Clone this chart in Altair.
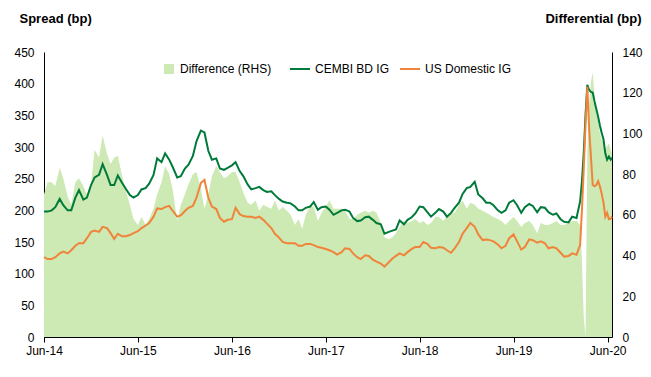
import altair as alt
import pandas as pd

# ---------------- data ----------------
# semi-monthly grid (1st and 15th) from Jun 2014 to mid-Feb 2020
SEMI_DATES = list(pd.date_range("2014-06-01", "2020-02-15", freq="SMS").strftime("%Y-%m-%d"))
# weekly dates through the Covid spike
COVID_DATES = ["2020-02-22", "2020-02-29", "2020-03-07", "2020-03-14", "2020-03-21",
               "2020-03-28", "2020-04-04", "2020-04-11", "2020-04-18", "2020-04-25",
               "2020-05-02", "2020-05-09", "2020-05-16", "2020-05-23", "2020-05-30",
               "2020-06-06", "2020-06-13", "2020-06-18"]

CEMBI_SEMI = [198, 198, 200, 205, 218, 208, 200, 200, 220, 232,
              217, 220, 240, 252, 256, 273, 256, 240, 240, 255,
              243, 234, 224, 220, 224, 233, 235, 242, 256, 282,
              276, 290, 280, 268, 252, 254, 266, 272, 286, 309,
              326, 323, 294, 280, 282, 266, 264, 267, 271, 276,
              262, 254, 241, 233, 235, 237, 232, 229, 230, 224,
              218, 214, 212, 211, 206, 200, 200, 204, 206, 213,
              201, 205, 206, 201, 193, 196, 200, 201, 198, 188,
              183, 184, 189, 190, 185, 180, 178, 163, 166, 168,
              170, 184, 178, 185, 189, 195, 206, 205, 197, 190,
              196, 202, 198, 190, 196, 204, 212, 226, 235, 237,
              245, 225, 219, 212, 212, 208, 200, 196, 200, 212,
              216, 208, 196, 205, 210, 207, 197, 205, 204, 197,
              193, 195, 186, 182, 181, 190, 188, 214]
CEMBI_COVID = [245, 290, 350, 398, 390, 387, 386, 372, 360, 348,
               334, 322, 312, 290, 280, 285, 280, 283]

US_SEMI = [126, 123, 123, 126, 132, 135, 132, 137, 144, 148,
           148, 156, 166, 168, 166, 174, 172, 164, 155, 163,
           159, 159, 161, 164, 167, 172, 176, 180, 190, 203,
           202, 205, 207, 199, 190, 192, 199, 204, 207, 220,
           243, 248, 220, 206, 202, 188, 182, 185, 186, 204,
           194, 191, 190, 190, 188, 190, 185, 179, 172, 163,
           157, 150, 148, 148, 148, 144, 144, 147, 147, 145,
           142, 141, 139, 137, 134, 130, 134, 140, 139, 132,
           126, 123, 129, 128, 122, 119, 116, 111, 118, 124,
           128, 132, 129, 134, 139, 142, 142, 150, 147, 141,
           140, 142, 141, 137, 133, 140, 150, 163, 172, 180,
           174, 162, 153, 154, 153, 151, 146, 140, 144, 156,
           162, 151, 138, 142, 154, 153, 149, 151, 148, 140,
           142, 140, 133, 127, 128, 132, 130, 145]
US_COVID = [200, 265, 335, 395, 330, 285, 240, 238, 240, 246,
            238, 226, 212, 190, 196, 186, 187, 190]

DIFF_SEMI = [70, 76, 76, 74, 83, 78, 69, 65, 76, 78,
             74, 70, 75, 92, 88, 99, 90, 85, 88, 89,
             79, 72, 65, 58, 55, 59, 55, 58, 63, 70,
             76, 84, 80, 72, 57, 65, 70, 75, 80, 81,
             73, 63, 70, 79, 84, 81, 78, 79, 81, 81,
             76, 71, 66, 65, 67, 62, 65, 64, 63, 67,
             62, 64, 62, 60, 55, 58, 53, 60, 64, 64,
             57, 61, 64, 67, 63, 63, 63, 62, 58, 58,
             60, 61, 62, 61, 62, 61, 56, 49, 48, 49,
             51, 54, 57, 56, 57, 58, 56, 57, 55, 56,
             59, 59, 57, 59, 61, 61, 65, 67, 63, 66,
             65, 63, 62, 61, 60, 59, 58, 57, 55, 57,
             59, 57, 54, 56, 57, 55, 51, 56, 55, 55,
             56, 57, 55, 55, 56, 57, 57, 55]
DIFF_COVID = [38, 10, 0, 90, 115, 125, 130, 118, 110, 106,
              100, 97, 95, 92, 94, 95, 92, 90]

SERIES_LINES = ["CEMBI BD IG", "US Domestic IG"]
SERIES_AREA = "Difference (RHS)"
X_TICK_YEARS = [2014, 2015, 2016, 2017, 2018, 2019, 2020]
LEFT_TICKS = [0, 50, 100, 150, 200, 250, 300, 350, 400, 450]
RIGHT_TICKS = [0, 20, 40, 60, 80, 100, 120, 140]

# ---------------- styling ----------------
FONT = "Liberation Sans"
AREA_COLOR = "#cde9b4"
GREEN = "#007a3a"
ORANGE = "#f0843a"

dates = SEMI_DATES + COVID_DATES
cembi = CEMBI_SEMI + CEMBI_COVID
us = US_SEMI + US_COVID
diff = DIFF_SEMI + DIFF_COVID
n = len(dates)

lines_df = pd.DataFrame({
    "date": dates + dates,
    "series": [SERIES_LINES[0]] * n + [SERIES_LINES[1]] * n,
    "spread": cembi + us,
})
area_df = pd.DataFrame({"date": dates, "series": [SERIES_AREA] * n, "diff": diff})

x_enc = alt.X(
    "date:T",
    title=None,
    scale=alt.Scale(type="utc", domain=[alt.DateTime(year=2014, month=6, date=1, utc=True),
                                        alt.DateTime(year=2020, month=6, date=18, utc=True)]),
    axis=alt.Axis(values=[alt.DateTime(year=y, month=6, date=1, utc=True) for y in X_TICK_YEARS],
                  labelExpr="utcFormat(datum.value, '%b-%y')", labelFlush=False, grid=False,
                  tickSize=5, tickColor="black", domainColor="black", domainWidth=1,
                  labelFont=FONT, labelFontSize=12, labelColor="black", labelPadding=3),
)

area = alt.Chart(area_df).mark_area(interpolate="linear", opacity=1).encode(
    x=x_enc,
    y=alt.Y("diff:Q", title="Differential (bp)",
            scale=alt.Scale(domain=[0, 140]),
            axis=alt.Axis(orient="right", values=RIGHT_TICKS, ticks=False, grid=False,
                          domainColor="black", domainWidth=1,
                          labelFont=FONT, labelFontSize=12, labelColor="black", labelPadding=10,
                          titleAngle=0, titleAlign="right", titleBaseline="middle",
                          titleX=29, titleY=-34, titleFont=FONT, titleFontSize=13,
                          titleFontWeight="bold", titleColor="black")),
    fill=alt.Fill("series:N",
                  scale=alt.Scale(domain=[SERIES_AREA], range=[AREA_COLOR]),
                  legend=alt.Legend(orient="none", legendX=119, legendY=11, title=None,
                                    symbolType="square", symbolSize=100, symbolStrokeWidth=0,
                                    labelFont=FONT, labelFontSize=12, labelColor="black",
                                    labelOffset=5, padding=0)),
)

lines = alt.Chart(lines_df).mark_line(strokeWidth=2, interpolate="linear").encode(
    x=x_enc,
    y=alt.Y("spread:Q", title="Spread (bp)",
            scale=alt.Scale(domain=[0, 450]),
            axis=alt.Axis(orient="left", values=LEFT_TICKS, ticks=False, grid=False,
                          domainColor="black", domainWidth=1,
                          labelFont=FONT, labelFontSize=12, labelColor="black", labelPadding=10,
                          titleAngle=0, titleAlign="left", titleBaseline="middle",
                          titleX=-25, titleY=-34, titleFont=FONT, titleFontSize=13,
                          titleFontWeight="bold", titleColor="black")),
    stroke=alt.Stroke("series:N",
                      scale=alt.Scale(domain=SERIES_LINES, range=[GREEN, ORANGE]),
                      legend=alt.Legend(orient="none", legendX=245, legendY=6, title=None,
                                        direction="horizontal", symbolType="stroke",
                                        symbolSize=400, symbolStrokeWidth=2,
                                        labelFont=FONT, labelFontSize=12, labelColor="black",
                                        labelOffset=4, columnPadding=6, padding=0)),
)

chart = (
    alt.layer(area, lines)
    .resolve_scale(y="independent")
    .properties(width=568, height=285,
                autosize=alt.AutoSizeParams(type="none"),
                padding={"left": 44, "top": 52, "right": 39, "bottom": 40},
                background="white")
    .configure_view(strokeWidth=0)
)

chart.save("out.html", embed_options={"renderer": "svg", "actions": False})
